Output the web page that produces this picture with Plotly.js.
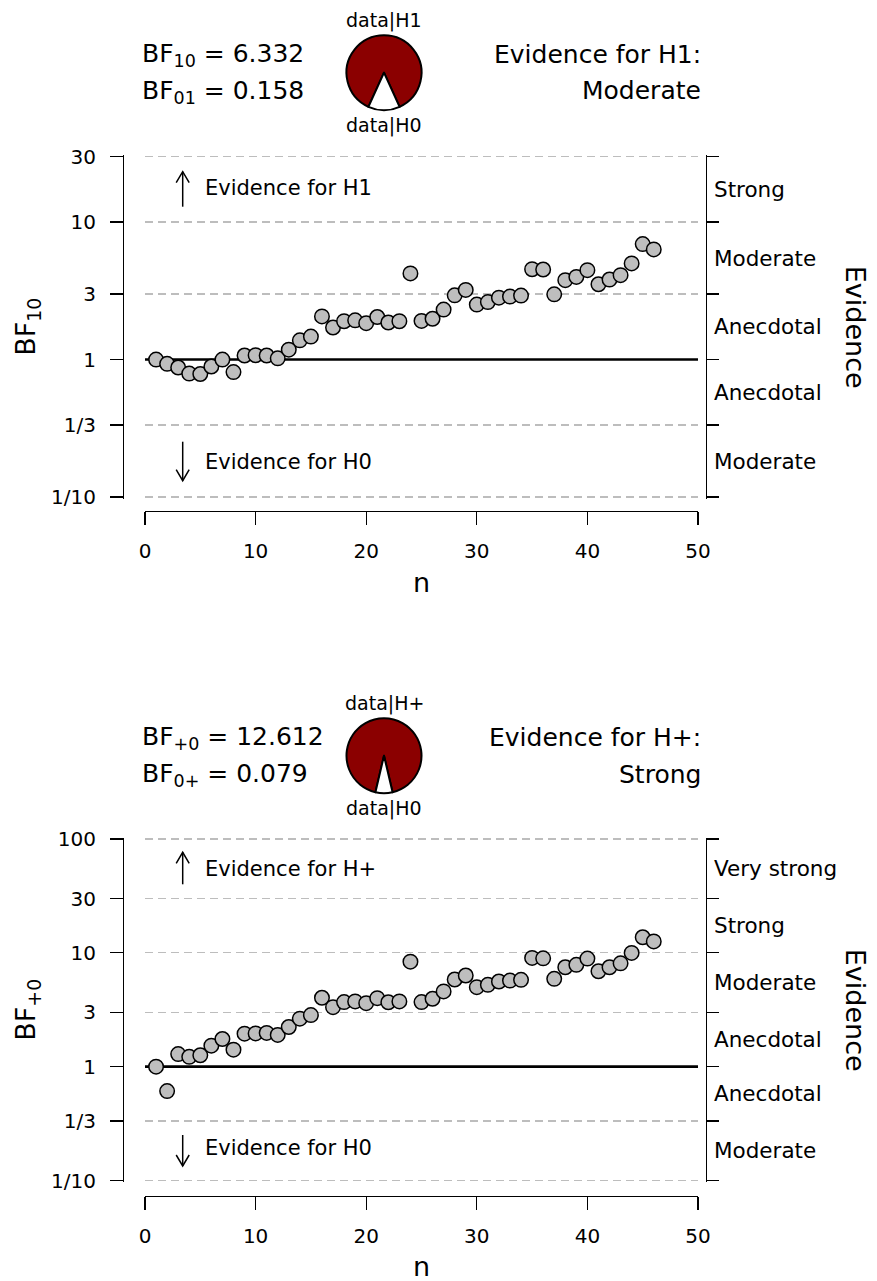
<!DOCTYPE html>
<html><head><meta charset="utf-8">
<script src="https://cdn.plot.ly/plotly-3.0.1.min.js"></script>
<style>html,body{margin:0;padding:0;background:#fff}</style>
</head><body><div id="chart" style="width:877px;height:1281px"></div>
<script>
// ---------- data ----------
const nValues = [1,2,3,4,5,6,7,8,9,10,11,12,13,14,15,16,17,18,19,20,21,22,23,24,25,26,27,28,29,30,31,32,33,34,35,36,37,38,39,40,41,42,43,44,45,46];
const bf10Values = [1.0,0.93,0.875,0.79,0.785,0.89,1.0,0.81,1.07,1.075,1.07,1.02,1.18,1.38,1.47,2.06,1.71,1.90,1.93,1.84,2.04,1.86,1.90,4.23,1.91,1.98,2.31,2.93,3.21,2.51,2.62,2.82,2.87,2.92,4.54,4.52,2.98,3.78,3.99,4.47,3.53,3.82,4.11,5.0,6.92,6.33];
const bfPlus0Values = [1.0,0.61,1.29,1.22,1.26,1.53,1.75,1.41,1.95,1.96,1.98,1.90,2.23,2.64,2.84,4.03,3.33,3.69,3.74,3.61,4.0,3.68,3.74,8.37,3.69,3.95,4.58,5.83,6.32,4.99,5.24,5.60,5.71,5.79,9.02,8.95,5.91,7.47,7.84,8.9,6.89,7.47,8.09,9.98,13.7,12.6];
const xTickVals = [0,10,20,30,40,50];
const xRange = [0, 50];
const topTickVals = [0.1, 1/3, 1, 3, 10, 30];
const topTickText = ['1/10','1/3','1','3','10','30'];
const topEvidenceLabels = ['Moderate','Anecdotal','Anecdotal','Moderate','Strong'];
const bottomTickVals = [0.1, 1/3, 1, 3, 10, 30, 100];
const bottomTickText = ['1/10','1/3','1','3','10','30','100'];
const bottomEvidenceLabels = ['Moderate','Anecdotal','Anecdotal','Moderate','Strong','Very strong'];
const topBF = [6.332, 0.158];
const bottomBF = [12.612, 0.079];
const topBFNames = ['BF<sub>10</sub>', 'BF<sub>01</sub>'];
const bottomBFNames = ['BF<sub>+0</sub>', 'BF<sub>0+</sub>'];
const topPieLabels = ['data|H1', 'data|H0'];
const bottomPieLabels = ['data|H+', 'data|H0'];
const topVerdict = ['Evidence for H1:', 'Moderate'];
const bottomVerdict = ['Evidence for H+:', 'Strong'];
const topArrowText = ['Evidence for H1', 'Evidence for H0'];
const bottomArrowText = ['Evidence for H+', 'Evidence for H0'];
const topYTitle = 'BF<sub>10</sub>';
const bottomYTitle = 'BF<sub>+0</sub>';
const referenceBF = 1;

// ---------- geometry ----------
const W = 877, H = 1281;
const px = v => v / W;
const py = v => 1 - v / H;
const FONT = 'DejaVu Sans, Liberation Sans, Arial, sans-serif';

const panels = [
  {vals: bf10Values, tickVals: topTickVals, tickText: topTickText, labels: topEvidenceLabels,
   bf: topBF, bfNames: topBFNames, pieLabels: topPieLabels, verdict: topVerdict, arrowText: topArrowText,
   yTitle: topYTitle, off: 0, plotTop: 156.5, plotBot: 497, xAxisY: 510.5,
   arrowUp: [171.7, 206.7], arrowDown: [441.7, 480.7], arrowTextY: [188, 462], nY: 582,
   xa: 'x', ya: 'y', ra: 'y3'},
  {vals: bfPlus0Values, tickVals: bottomTickVals, tickText: bottomTickText, labels: bottomEvidenceLabels,
   bf: bottomBF, bfNames: bottomBFNames, pieLabels: bottomPieLabels, verdict: bottomVerdict, arrowText: bottomArrowText,
   yTitle: bottomYTitle, off: 683, plotTop: 839, plotBot: 1180.5, xAxisY: 1195.5,
   arrowUp: [852.3, 884.3], arrowDown: [1135, 1166], arrowTextY: [869, 1148], nY: 1266,
   xa: 'x2', ya: 'y2', ra: 'y4'}
];

const traces = [];
const layout = {
  width: W, height: H, margin: {l: 0, r: 0, t: 0, b: 0},
  paper_bgcolor: '#ffffff', plot_bgcolor: '#ffffff', showlegend: false,
  font: {family: FONT, color: '#000000', size: 20},
  annotations: [], shapes: []
};

panels.forEach((p, i) => {
  const sfx = i === 0 ? '' : '2';
  const rsfx = i === 0 ? '3' : '4';
  const lo = Math.log10(p.tickVals[0]);
  const hi = Math.log10(p.tickVals[p.tickVals.length - 1]);
  const eps = 0.012;
  const yrange = [lo - eps, hi + eps];
  const pxPerDec = (p.plotBot - p.plotTop) / (hi - lo);
  const ydom = [py(p.plotBot + eps * pxPerDec), py(p.plotTop - eps * pxPerDec)];

  layout['xaxis' + sfx] = {
    domain: [px(145), px(698)], range: xRange, anchor: 'free', position: py(p.xAxisY),
    showline: true, linecolor: '#000', linewidth: 1.3, ticks: 'outside', ticklen: 13, tickwidth: 1.3,
    tickcolor: '#000', tickvals: xTickVals, tickfont: {size: 20, family: FONT}, showgrid: false,
    zeroline: false, ticklabelstandoff: 9, fixedrange: true
  };
  layout['yaxis' + sfx] = {
    domain: ydom, type: 'log', range: yrange, anchor: 'free', position: px(123), side: 'left',
    showline: true, linecolor: '#000', linewidth: 1.3, ticks: 'outside', ticklen: 13, tickwidth: 1.3,
    tickcolor: '#000', tickvals: p.tickVals, ticktext: p.tickText, tickfont: {size: 20, family: FONT},
    showgrid: true, gridcolor: '#BDBDBD', gridwidth: 1.3, griddash: '8px,5px', zeroline: false,
    ticklabelstandoff: 10, fixedrange: true
  };
  layout['yaxis' + rsfx] = {
    domain: ydom, type: 'log', range: yrange, anchor: 'free', position: px(706), side: 'right',
    overlaying: p.ya, showline: true, linecolor: '#000', linewidth: 1.3, ticks: 'outside', ticklen: 12,
    tickwidth: 1.3, tickcolor: '#000', tickvals: p.tickVals, showticklabels: false, showgrid: false,
    zeroline: false, fixedrange: true
  };

  // reference line at BF = 1 (drawn under the points)
  traces.push({type: 'scatter', mode: 'lines', x: xRange, y: [referenceBF, referenceBF],
    xaxis: p.xa, yaxis: p.ya, hoverinfo: 'skip', showlegend: false, cliponaxis: false,
    line: {color: '#000', width: 2.6}});

  // right-hand evidence axis
  traces.push({type: 'scatter', x: [null], y: [null], xaxis: p.xa, yaxis: p.ra, mode: 'markers',
    hoverinfo: 'skip', showlegend: false});

  traces.push({type: 'scatter', mode: 'markers', x: nValues, y: p.vals, xaxis: p.xa, yaxis: p.ya,
    cliponaxis: false, hoverinfo: 'skip', showlegend: false,
    marker: {size: 14.5, color: '#BEBEBE', line: {color: '#000', width: 1.5}}});

  // pie
  const p0 = 1 / (1 + p.bf[0]);
  const cy = 72.7 + p.off, cx = 384, r = 37.5;
  traces.push({type: 'pie', values: [p.bf[0], 1], labels: p.pieLabels, sort: false,
    direction: 'clockwise', rotation: 180 * p0 - 180, textinfo: 'none', hoverinfo: 'skip',
    showlegend: false,
    marker: {colors: ['#8B0000', '#FFFFFF'], line: {color: '#000', width: 2}},
    domain: {x: [px(cx - r), px(cx + r)], y: [py(cy + r), py(cy - r)]}});

  const A = layout.annotations;
  const ann = (o) => A.push(Object.assign({xref: 'paper', yref: 'paper', showarrow: false,
    font: {family: FONT, size: 20, color: '#000'}}, o));

  // header BF values
  ann({x: px(140), y: py(55 + p.off), xanchor: 'left', yanchor: 'middle',
    text: p.bfNames[0] + ' = ' + p.bf[0].toFixed(3), font: {family: FONT, size: 25, color: '#000'}});
  ann({x: px(140), y: py(92 + p.off), xanchor: 'left', yanchor: 'middle',
    text: p.bfNames[1] + ' = ' + p.bf[1].toFixed(3), font: {family: FONT, size: 25, color: '#000'}});
  // pie labels
  ann({x: px(384), y: py(20 + p.off), xanchor: 'center', yanchor: 'middle', text: p.pieLabels[0],
    font: {family: FONT, size: 19, color: '#000'}});
  ann({x: px(384), y: py(125 + p.off), xanchor: 'center', yanchor: 'middle', text: p.pieLabels[1],
    font: {family: FONT, size: 19, color: '#000'}});
  // verdict
  ann({x: px(703), y: py(54 + p.off), xanchor: 'right', yanchor: 'middle', text: p.verdict[0],
    font: {family: FONT, size: 25, color: '#000'}});
  ann({x: px(703), y: py(91 + p.off), xanchor: 'right', yanchor: 'middle', text: p.verdict[1],
    font: {family: FONT, size: 25, color: '#000'}});

  // arrows drawn as shapes (shaft + open V head)
  const ax = 182.7, hw = 6.5, hl = 11;
  const arrow = (tip, tail) => {
    const dir = tail > tip ? 1 : -1;
    layout.shapes.push({type: 'line', xref: 'paper', yref: 'paper', x0: px(ax), x1: px(ax),
      y0: py(tail), y1: py(tip), line: {color: '#000', width: 1.5}});
    layout.shapes.push({type: 'path', xref: 'paper', yref: 'paper',
      path: 'M' + px(ax - hw) + ',' + py(tip + dir * hl) + ' L' + px(ax) + ',' + py(tip) +
            ' L' + px(ax + hw) + ',' + py(tip + dir * hl),
      line: {color: '#000', width: 1.5}});
  };
  arrow(p.arrowUp[0], p.arrowUp[1]);
  arrow(p.arrowDown[1], p.arrowDown[0]);
  ann({x: px(203), y: py(p.arrowTextY[0]), xanchor: 'left', yanchor: 'middle', text: p.arrowText[0],
    font: {family: FONT, size: 21, color: '#000'}});
  ann({x: px(203), y: py(p.arrowTextY[1]), xanchor: 'left', yanchor: 'middle', text: p.arrowText[1],
    font: {family: FONT, size: 21, color: '#000'}});

  // evidence category labels between ticks (geometric midpoints)
  for (let k = 0; k < p.labels.length; k++) {
    const mid = Math.sqrt(p.tickVals[k] * p.tickVals[k + 1]);
    A.push({xref: 'paper', yref: p.ya, x: px(712), y: Math.log10(mid), xanchor: 'left',
      yanchor: 'middle', text: p.labels[k], showarrow: false,
      font: {family: FONT, size: 21.5, color: '#000'}});
  }

  // axis titles
  const midY = (p.plotTop + p.plotBot) / 2;
  ann({x: px(28), y: py(midY), xanchor: 'center', yanchor: 'middle', text: p.yTitle, textangle: -90,
    font: {family: FONT, size: 27, color: '#000'}});
  ann({x: px(855), y: py(midY), xanchor: 'center', yanchor: 'middle', text: 'Evidence', textangle: 90,
    font: {family: FONT, size: 27, color: '#000'}});
  ann({x: px(421.5), y: py(p.nY), xanchor: 'center', yanchor: 'middle', text: 'n',
    font: {family: FONT, size: 27, color: '#000'}});
});

Plotly.newPlot('chart', traces, layout, {staticPlot: true, displayModeBar: false});
</script>
</body></html>
